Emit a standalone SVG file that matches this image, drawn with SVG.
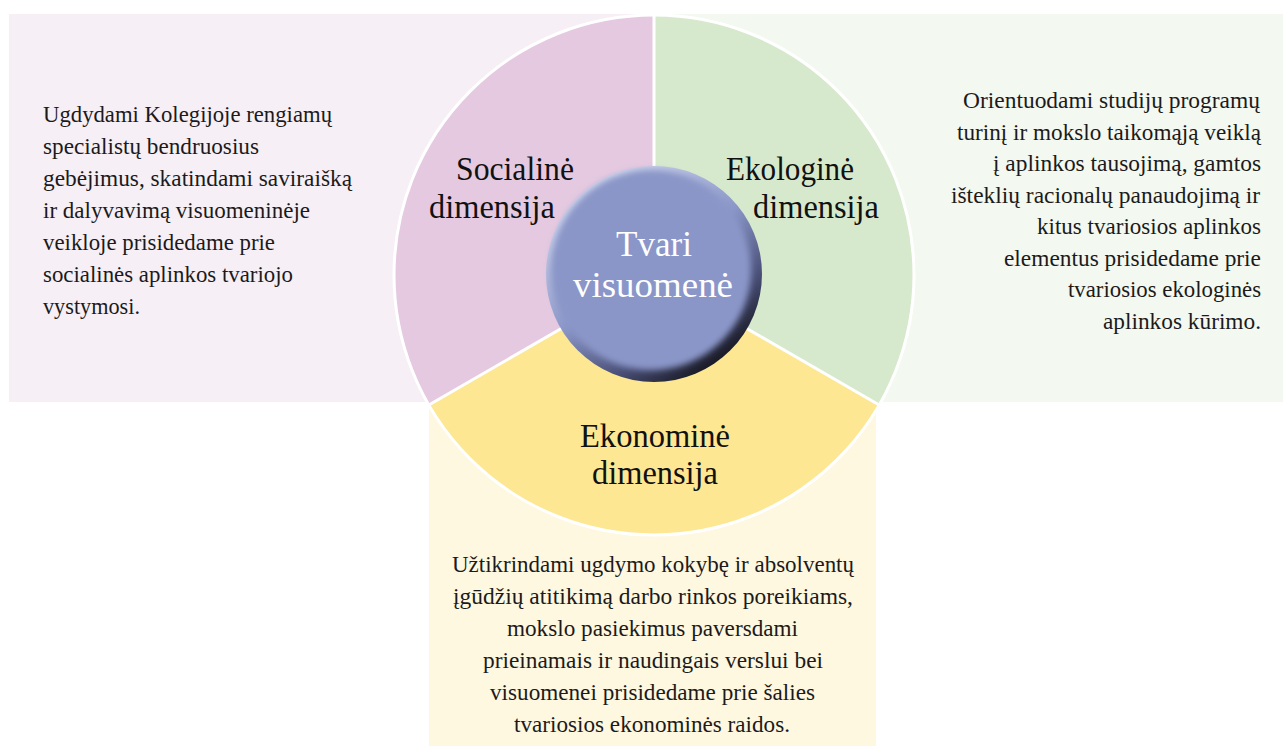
<svg xmlns="http://www.w3.org/2000/svg" width="1284" height="746" viewBox="0 0 1284 746">
<defs>
<style>
text{font-family:"Liberation Serif","Times New Roman",serif}
.body{font-size:23.5px;fill:#1c1a1a}
.dim{font-size:34px;fill:#111}
.ctr{font-size:36px;fill:#fff}
.div{stroke:#fff;stroke-width:3;fill:none}
</style>
<linearGradient id="rim" x1="0.2" y1="0.1" x2="0.8" y2="0.95">
<stop offset="0" stop-color="#d2d7ee"/>
<stop offset="0.45" stop-color="#8a96c8"/>
<stop offset="0.75" stop-color="#4a5078"/>
<stop offset="1" stop-color="#111118"/>
</linearGradient>
<filter id="soft" x="-10%" y="-10%" width="120%" height="120%">
<feGaussianBlur stdDeviation="3"/>
</filter>
</defs>
<rect width="1284" height="746" fill="#fff"/>
<g id="panels">
<rect x="9" y="14" width="645" height="388" fill="#f6eff6"/>
<rect x="654" y="14" width="629" height="388" fill="#f3f8f0"/>
<rect x="429" y="402" width="447" height="344" fill="#fef8e1"/>
</g>
<g id="social">
<path d="M654 275 L654 15 A260 260 0 0 0 428.83 405 Z" fill="#e4c9e0"/>
<text class="dim" x="456" y="180" textLength="118" lengthAdjust="spacingAndGlyphs">Socialinė</text>
<text class="dim" x="429" y="218" textLength="126" lengthAdjust="spacingAndGlyphs">dimensija</text>
<g class="body" font-family="Liberation Serif, serif">
<text x="43" y="121.5" textLength="289" lengthAdjust="spacingAndGlyphs">Ugdydami Kolegijoje rengiamų</text>
<text x="43" y="153.5" textLength="216" lengthAdjust="spacingAndGlyphs">specialistų bendruosius</text>
<text x="43" y="185.5" textLength="309" lengthAdjust="spacingAndGlyphs">gebėjimus, skatindami saviraišką</text>
<text x="43" y="217.5" textLength="267" lengthAdjust="spacingAndGlyphs">ir dalyvavimą visuomeninėje</text>
<text x="43" y="249.5" textLength="232" lengthAdjust="spacingAndGlyphs">veikloje prisidedame prie</text>
<text x="43" y="281.5" textLength="250" lengthAdjust="spacingAndGlyphs">socialinės aplinkos tvariojo</text>
<text x="43" y="313.5" textLength="97" lengthAdjust="spacingAndGlyphs">vystymosi.</text>
</g>
</g>
<g id="ecological">
<path d="M654 275 L654 15 A260 260 0 0 1 879.17 405 Z" fill="#d7e9cd"/>
<text class="dim" x="726" y="180" textLength="128" lengthAdjust="spacingAndGlyphs">Ekologinė</text>
<text class="dim" x="753" y="218" textLength="126" lengthAdjust="spacingAndGlyphs">dimensija</text>
<g class="body" font-family="Liberation Serif, serif">
<text x="963" y="108" textLength="297" lengthAdjust="spacingAndGlyphs">Orientuodami studijų programų</text>
<text x="957" y="139.5" textLength="304" lengthAdjust="spacingAndGlyphs">turinį ir mokslo taikomąją veiklą</text>
<text x="993" y="171" textLength="268" lengthAdjust="spacingAndGlyphs">į aplinkos tausojimą, gamtos</text>
<text x="951" y="202.5" textLength="309" lengthAdjust="spacingAndGlyphs">išteklių racionalų panaudojimą ir</text>
<text x="1037" y="234" textLength="224" lengthAdjust="spacingAndGlyphs">kitus tvariosios aplinkos</text>
<text x="1004" y="265.5" textLength="257" lengthAdjust="spacingAndGlyphs">elementus prisidedame prie</text>
<text x="1068" y="297" textLength="193" lengthAdjust="spacingAndGlyphs">tvariosios ekologinės</text>
<text x="1103" y="328.5" textLength="158" lengthAdjust="spacingAndGlyphs">aplinkos kūrimo.</text>
</g>
</g>
<g id="economic">
<path d="M654 275 L428.83 405 A260 260 0 0 0 879.17 405 Z" fill="#fde792"/>
<text class="dim" x="580" y="447" textLength="150" lengthAdjust="spacingAndGlyphs">Ekonominė</text>
<text class="dim" x="592" y="484" textLength="126" lengthAdjust="spacingAndGlyphs">dimensija</text>
<g class="body" font-family="Liberation Serif, serif">
<text x="452" y="572" textLength="402" lengthAdjust="spacingAndGlyphs">Užtikrindami ugdymo kokybę ir absolventų</text>
<text x="453" y="604" textLength="400" lengthAdjust="spacingAndGlyphs">įgūdžių atitikimą darbo rinkos poreikiams,</text>
<text x="507" y="636" textLength="291" lengthAdjust="spacingAndGlyphs">mokslo pasiekimus paversdami</text>
<text x="483" y="668" textLength="340" lengthAdjust="spacingAndGlyphs">prieinamais ir naudingais verslui bei</text>
<text x="490" y="700" textLength="325" lengthAdjust="spacingAndGlyphs">visuomenei prisidedame prie šalies</text>
<text x="514" y="732" textLength="276" lengthAdjust="spacingAndGlyphs">tvariosios ekonominės raidos.</text>
</g>
</g>
<g id="connectors">
<circle class="div" cx="654" cy="275" r="260"/>
<line class="div" x1="654" y1="275" x2="654" y2="15"/>
<line class="div" x1="654" y1="275" x2="428.83" y2="405"/>
<line class="div" x1="654" y1="275" x2="879.17" y2="405"/>
</g>
<g id="center">
<circle cx="654" cy="274" r="108" fill="url(#rim)"/>
<circle cx="651" cy="270" r="100" fill="#8a96c8" filter="url(#soft)"/>
<text class="ctr" x="616" y="256" textLength="76" lengthAdjust="spacingAndGlyphs">Tvari</text>
<text class="ctr" x="573" y="297" textLength="160" lengthAdjust="spacingAndGlyphs">visuomenė</text>
</g>
</svg>
